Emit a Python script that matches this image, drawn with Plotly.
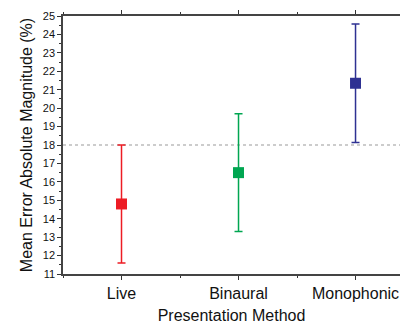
import plotly.graph_objects as go

categories = ["Live", "Binaural", "Monophonic"]
means = [14.8, 16.5, 21.35]
errors = [3.2, 3.2, 3.22]
colors = ["#ED1C24", "#00A651", "#2E3192"]
reference_level = 18
x_pos = [1, 2, 3]

fig = go.Figure()
for i in range(3):
    fig.add_trace(go.Scatter(
        x=[x_pos[i]], y=[means[i]], mode="markers",
        marker=dict(symbol="square", size=11, color=colors[i]),
        error_y=dict(type="data", array=[errors[i]], color=colors[i], thickness=1.5, width=4),
        showlegend=False))

fig.add_shape(type="line", xref="paper", x0=0, x1=1, yref="y", y0=reference_level, y1=reference_level,
              line=dict(color="#999999", width=1, dash="dot"), layer="below")

font = "Liberation Sans, Arial, sans-serif"
fig.update_layout(
    width=401, height=324,
    margin=dict(l=63, r=1, t=16, b=50, autoexpand=False),
    plot_bgcolor="white", paper_bgcolor="white",
    font=dict(family=font, color="#111"),
    xaxis=dict(range=[0.5, 3.38], tickvals=x_pos, ticktext=categories, automargin=False,
               ticks="outside", ticklen=4, tickwidth=1, tickcolor="#333",
               minor=dict(dtick=0.5, tick0=0.5, ticks="outside", ticklen=2, tickcolor="#333"),
               showline=True, linecolor="#444", linewidth=1.5, mirror="ticks",
               showgrid=False, zeroline=False, tickfont=dict(size=16),
               title=dict(text="Presentation Method", font=dict(size=16), standoff=10)),
    yaxis=dict(range=[11, 25], dtick=1, ticks="outside", ticklen=4, tickwidth=1, tickcolor="#333",
               minor=dict(dtick=0.5, ticks="outside", ticklen=2, tickcolor="#333"), automargin=False,
               showline=True, linecolor="#444", linewidth=1.5, mirror=False,
               showgrid=False, zeroline=False, tickfont=dict(size=11),
               title=dict(text="Mean Error Absolute Magnitude (%)", font=dict(size=16), standoff=6)),
)
fig.write_html("out.html", config={"displayModeBar": False},
               post_script="document.body.style.margin='0';")
